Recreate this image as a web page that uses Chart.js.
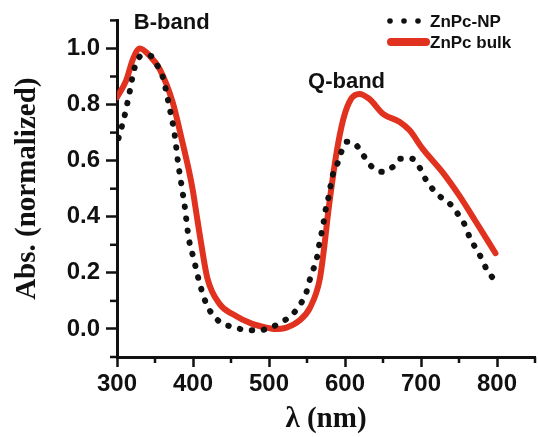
<!DOCTYPE html>
<html>
<head>
<meta charset="utf-8">
<script src="https://cdn.jsdelivr.net/npm/chart.js@4/dist/chart.umd.min.js"></script>
<style>
  html, body { margin: 0; padding: 0; background: #fff; }
  #wrap { width: 538px; height: 437px; position: relative; }
</style>
</head>
<body>
<div id="wrap"><canvas id="c" width="538" height="437"></canvas></div>
<script>
// ---- data ----
const seriesNames = ["ZnPc-NP", "ZnPc bulk"];
const bandLabels = ["B-band", "Q-band"];

const nmNP = [302, 310, 317, 323, 332, 343, 352, 360, 369, 376, 380, 385, 389, 393, 396, 400, 404, 408, 417, 425, 437, 453, 470, 487, 502, 517, 530, 541, 549, 553, 558, 563, 566, 569, 572, 574, 578, 584, 591, 595, 602, 613, 624, 632, 649, 663, 673, 688, 699, 706, 715, 726, 738, 749, 758, 764, 772, 780, 787, 797];
const absNP = [0.68, 0.76, 0.85, 0.93, 0.974, 0.975, 0.944, 0.90, 0.79, 0.69, 0.60, 0.51, 0.44, 0.35, 0.30, 0.26, 0.215, 0.17, 0.093, 0.054, 0.022, 0.007, -0.004, -0.005, 0.005, 0.025, 0.05, 0.087, 0.129, 0.17, 0.21, 0.253, 0.30, 0.34, 0.383, 0.418, 0.466, 0.55, 0.596, 0.63, 0.667, 0.66, 0.62, 0.587, 0.56, 0.578, 0.607, 0.607, 0.572, 0.534, 0.50, 0.47, 0.446, 0.408, 0.369, 0.327, 0.288, 0.25, 0.209, 0.174];

const nmBulk = [300, 312, 321, 330, 343, 356, 373, 386, 395, 400, 404, 411, 419, 435, 452, 478, 500, 506, 523, 540, 554, 567, 573, 578, 589, 598, 608, 619, 632, 650, 672, 685, 702, 728, 750, 772, 798];
const absBulk = [0.826, 0.885, 0.962, 1.0, 0.974, 0.927, 0.81, 0.667, 0.56, 0.49, 0.42, 0.30, 0.18, 0.089, 0.053, 0.018, 0.003, 0.0, 0.005, 0.03, 0.076, 0.18, 0.30, 0.418, 0.63, 0.75, 0.82, 0.838, 0.82, 0.767, 0.738, 0.708, 0.643, 0.56, 0.477, 0.383, 0.27];

const xTickLabels = [300, 400, 500, 600, 700, 800];
const yTickLabels = [0.0, 0.2, 0.4, 0.6, 0.8, 1.0];

// ---- styles ----
const RED = '#e0321f';
const INK = '#111111';
const SANS = '"Liberation Sans", Arial, sans-serif';
const SERIF = '"Liberation Serif", "Times New Roman", serif';

const ptsNP = nmNP.map((x, i) => ({ x: x, y: absNP[i] }));
const ptsBulk = nmBulk.map((x, i) => ({ x: x, y: absBulk[i] }));

const isMajorX = v => xTickLabels.indexOf(Math.round(v)) !== -1;
const isMajorY = v => yTickLabels.some(t => Math.abs(t - v) < 1e-6);

const decorPlugin = {
  id: 'decor',
  afterDraw(chart) {
    const ctx = chart.ctx;
    const xs = chart.scales.x, ys = chart.scales.y;
    ctx.save();
    // minor ticks
    ctx.strokeStyle = INK;
    ctx.lineWidth = 2.5;
    ctx.lineCap = 'butt';
    ys.ticks.forEach(t => {
      if (!isMajorY(t.value)) {
        const py = ys.getPixelForValue(t.value);
        ctx.beginPath(); ctx.moveTo(xs.left - 7, py); ctx.lineTo(xs.left, py); ctx.stroke();
      }
    });
    xs.ticks.forEach(t => {
      if (!isMajorX(t.value)) {
        const px = xs.getPixelForValue(t.value);
        ctx.beginPath(); ctx.moveTo(px, ys.bottom); ctx.lineTo(px, ys.bottom + 6); ctx.stroke();
      }
    });
    // band annotations
    ctx.fillStyle = INK;
    ctx.font = 'bold 22px ' + SANS;
    ctx.textAlign = 'center';
    ctx.textBaseline = 'middle';
    ctx.fillText(bandLabels[0], xs.getPixelForValue(372), ys.getPixelForValue(1.092));
    ctx.fillText(bandLabels[1], xs.getPixelForValue(602), ys.getPixelForValue(0.879));
    // legend
    const ds = chart.data.datasets;
    ctx.font = 'bold 17px ' + SANS;
    ctx.textAlign = 'left';
    // dotted entry
    ctx.fillStyle = ds[0].borderColor;
    [390, 404, 418].forEach(cx => {
      ctx.beginPath(); ctx.arc(cx, 21, 2.8, 0, Math.PI * 2); ctx.fill();
    });
    ctx.fillStyle = INK;
    ctx.fillText(ds[0].label, 430, 22);
    // solid entry
    ctx.strokeStyle = ds[1].borderColor;
    ctx.lineWidth = 8;
    ctx.lineCap = 'round';
    ctx.beginPath(); ctx.moveTo(391, 42); ctx.lineTo(426, 42); ctx.stroke();
    ctx.fillStyle = INK;
    ctx.fillText(ds[1].label, 430, 43);
    ctx.restore();
  }
};

new Chart(document.getElementById('c'), {
  type: 'line',
  data: {
    datasets: [
      {
        label: seriesNames[0],
        data: ptsNP,
        borderColor: INK,
        borderWidth: 6,
        borderDash: [0.5, 11.5],
        borderCapStyle: 'round',
        pointRadius: 0,
        fill: false,
        cubicInterpolationMode: 'monotone'
      },
      {
        label: seriesNames[1],
        data: ptsBulk,
        borderColor: RED,
        borderWidth: 6,
        borderCapStyle: 'round',
        borderJoinStyle: 'round',
        pointRadius: 0,
        fill: false,
        cubicInterpolationMode: 'monotone'
      }
    ]
  },
  options: {
    responsive: false,
    animation: false,
    devicePixelRatio: 1,
    layout: { padding: { top: 18, right: 1, left: 0, bottom: 0 } },
    plugins: { legend: { display: false }, tooltip: { enabled: false } },
    scales: {
      x: {
        type: 'linear',
        min: 300,
        max: 850,
        afterFit: s => { s.height = 80; },
        border: { display: true, color: INK, width: 3 },
        grid: {
          drawOnChartArea: false,
          drawTicks: true,
          tickLength: 10,
          tickWidth: 2.5,
          tickColor: c => (c.tick && isMajorX(c.tick.value)) ? INK : 'rgba(0,0,0,0)'
        },
        ticks: {
          stepSize: 50,
          autoSkip: false,
          maxRotation: 0,
          padding: 3,
          color: INK,
          font: { family: SANS, size: 24, weight: 'bold' },
          callback: v => isMajorX(v) ? String(Math.round(v)) : ''
        },
        title: {
          display: true,
          text: 'λ (nm)',
          color: INK,
          font: { family: SERIF, size: 29, weight: 'bold' },
          padding: { top: 0, bottom: 0 }
        }
      },
      y: {
        type: 'linear',
        min: -0.1,
        max: 1.1,
        afterFit: s => { s.width = 117; },
        border: { display: true, color: INK, width: 3 },
        grid: {
          drawOnChartArea: false,
          drawTicks: true,
          tickLength: 11,
          tickWidth: 2.5,
          tickColor: c => (c.tick && isMajorY(c.tick.value)) ? INK : 'rgba(0,0,0,0)'
        },
        ticks: {
          stepSize: 0.1,
          autoSkip: false,
          padding: 6,
          color: INK,
          font: { family: SANS, size: 24, weight: 'bold' },
          callback: v => isMajorY(v) ? (Math.round(v * 10) / 10).toFixed(1) : ''
        },
        title: {
          display: true,
          text: 'Abs. (normalized)',
          color: INK,
          font: { family: SERIF, size: 29, weight: 'bold' },
          padding: { top: 10, bottom: 0 }
        }
      }
    }
  },
  plugins: [decorPlugin]
});
</script>
</body>
</html>
